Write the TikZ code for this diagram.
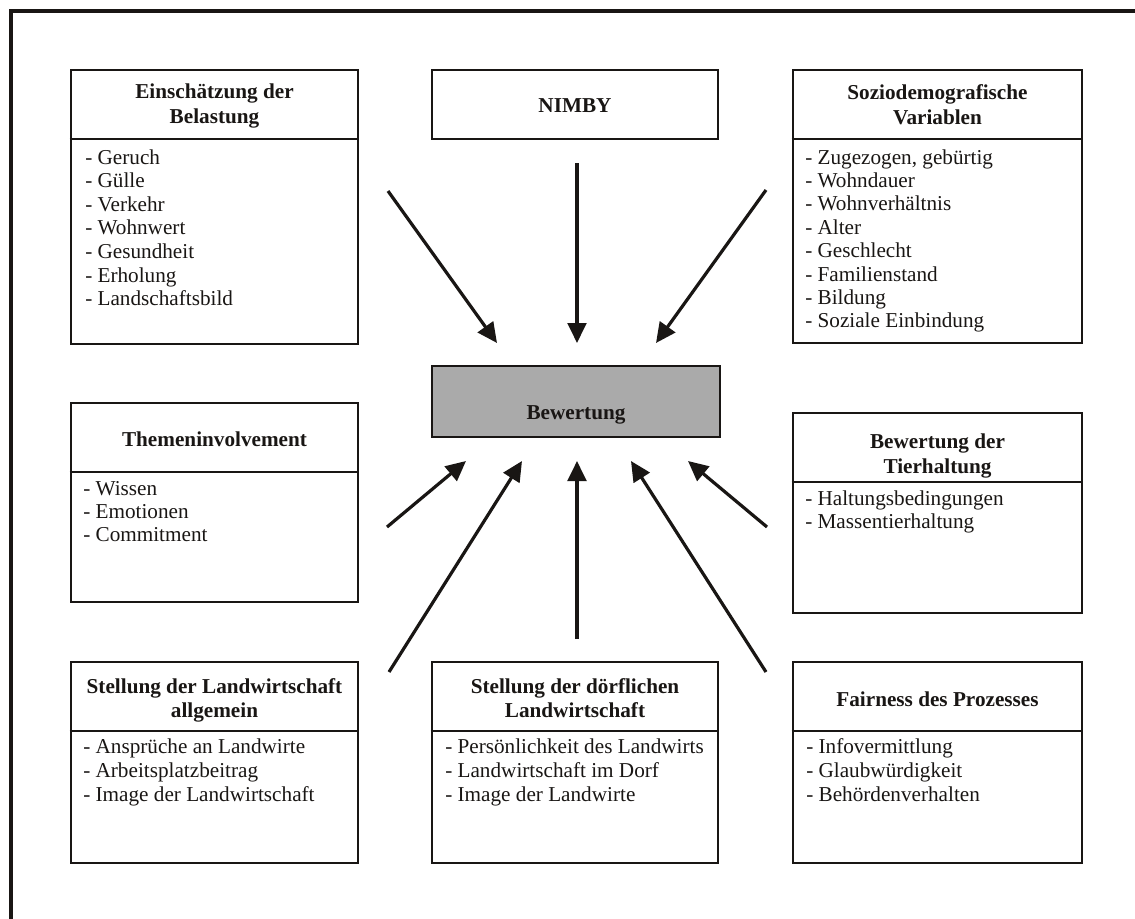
\documentclass[tikz,border=0pt]{standalone}
\usepackage{fontspec}
\setmainfont{Liberation Serif}
\usetikzlibrary{arrows.meta,fit}
\definecolor{boxgray}{RGB}{170,170,170}
\definecolor{ink}{RGB}{25,22,20}
\tikzset{
  boxline/.style={draw=ink, line width=2.1pt},
  catbox/.style={boxline, inner sep=0pt, fit={#1}},
  head/.style={anchor=base, inner sep=0pt, text=ink, font=\bfseries\fontsize{15.9pt}{18pt}\selectfont},
  item/.style={anchor=base west, inner sep=0pt, text=ink, font=\fontsize{15.9pt}{18pt}\selectfont},
  infl/.style={draw=ink, line width=2.4pt, -{Triangle[length=15pt,width=14pt]}},
  frameline/.style={draw=ink, line width=2.6pt}
}
\begin{document}
\begin{tikzpicture}[x=0.75pt,y=-0.75pt]
\useasboundingbox (0,0) rectangle (1135,918);
% outer frame (only left and top visible)
\draw[frameline] (11,940) -- (11,11) -- (1160,11);

% ---- boxes ----
\node[catbox={(71,70) (358,344)}] (belast) {};
\node[catbox={(432,70) (718,139)}] (nimby) {};
\node[catbox={(793,70) (1082,343)}] (sozio) {};
\node[catbox={(432,366) (720,437)}, fill=boxgray] (bew) {};
\node[catbox={(71,403) (358,602)}] (themen) {};
\node[catbox={(793,413) (1082,613)}] (tier) {};
\node[catbox={(71,662) (358,863)}] (allg) {};
\node[catbox={(432,662) (718,863)}] (dorf) {};
\node[catbox={(793,662) (1082,863)}] (fair) {};

% dividers
\draw[boxline] (belast.west |- 0,139) -- (belast.east |- 0,139);
\draw[boxline] (sozio.west |- 0,139) -- (sozio.east |- 0,139);
\draw[boxline] (themen.west |- 0,472) -- (themen.east |- 0,472);
\draw[boxline] (tier.west |- 0,482) -- (tier.east |- 0,482);
\draw[boxline] (allg.west |- 0,731) -- (allg.east |- 0,731);
\draw[boxline] (dorf.west |- 0,731) -- (dorf.east |- 0,731);
\draw[boxline] (fair.west |- 0,731) -- (fair.east |- 0,731);

% ---- headings ----
\node[head] (h-belast1) at (214.5,98) {Einschätzung der};
\node[head] (h-belast2) at (214.5,123) {Belastung};
\node[head] (h-nimby) at (575,112) {NIMBY};
\node[head] (h-sozio1) at (937.5,99) {Soziodemografische};
\node[head] (h-sozio2) at (937.5,124) {Variablen};
\node[head] (h-bew) at (576,419) {Bewertung};
\node[head] (h-themen) at (214.5,446) {Themeninvolvement};
\node[head] (h-tier1) at (937.5,448) {Bewertung der};
\node[head] (h-tier2) at (937.5,473) {Tierhaltung};
\node[head] (h-allg1) at (214.5,693) {Stellung der Landwirtschaft};
\node[head] (h-allg2) at (214.5,717) {allgemein};
\node[head] (h-dorf1) at (575,693) {Stellung der dörflichen};
\node[head] (h-dorf2) at (575,717) {Landwirtschaft};
\node[head] (h-fair) at (937.5,706) {Fairness des Prozesses};

% ---- item lists ----
\foreach \t [count=\i] in {Geruch, Gülle, Verkehr, Wohnwert, Gesundheit, Erholung, Landschaftsbild}
  \node[item] (belast-\i) at (85,{164+23.6*(\i-1)}) {- \t};
\foreach \t [count=\i] in {{Zugezogen, gebürtig}, Wohndauer, Wohnverhältnis, Alter, Geschlecht, Familienstand, Bildung, Soziale Einbindung}
  \node[item] (sozio-\i) at (805,{164+23.4*(\i-1)}) {- \t};
\foreach \t [count=\i] in {Wissen, Emotionen, Commitment}
  \node[item] (themen-\i) at (83,{495+23.4*(\i-1)}) {- \t};
\foreach \t [count=\i] in {Haltungsbedingungen, Massentierhaltung}
  \node[item] (tier-\i) at (805,{505+23.4*(\i-1)}) {- \t};
\foreach \t [count=\i] in {Ansprüche an Landwirte, Arbeitsplatzbeitrag, Image der Landwirtschaft}
  \node[item] (allg-\i) at (83,{753+24*(\i-1)}) {- \t};
\foreach \t [count=\i] in {Persönlichkeit des Landwirts, Landwirtschaft im Dorf, Image der Landwirte}
  \node[item] (dorf-\i) at (445,{753+24*(\i-1)}) {- \t};
\foreach \t [count=\i] in {Infovermittlung, Glaubwürdigkeit, Behördenverhalten}
  \node[item] (fair-\i) at (806,{753+24*(\i-1)}) {- \t};

% ---- arrow end points (free-floating arrows) ----
\coordinate (a1s) at (388,191); \coordinate (a1e) at (497,343);
\coordinate (a2s) at (577,163); \coordinate (a2e) at (577,343);
\coordinate (a3s) at (766,190); \coordinate (a3e) at (656,343);
\coordinate (b1s) at (387,527); \coordinate (b1e) at (466,461);
\coordinate (b2s) at (389,672); \coordinate (b2e) at (522,461);
\coordinate (b3s) at (577,639); \coordinate (b3e) at (577,461);
\coordinate (b4s) at (766,672); \coordinate (b4e) at (631,461);
\coordinate (b5s) at (767,527); \coordinate (b5e) at (688,461);

\foreach \a in {a1,a2,a3,b1,b2,b3,b4,b5}
  \draw[infl] (\a s) -- (\a e);
\end{tikzpicture}
\end{document}
